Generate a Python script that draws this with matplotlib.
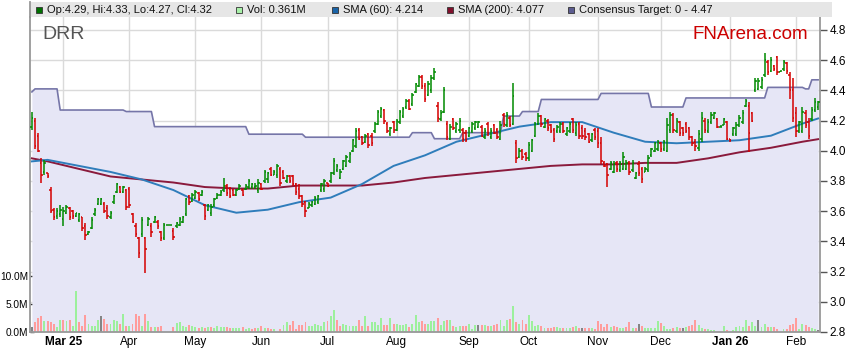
import numpy as np
import matplotlib
matplotlib.use("Agg")
import matplotlib.pyplot as plt
from matplotlib.collections import LineCollection
from matplotlib.patches import Rectangle

plt.rcParams['font.family'] = ['Liberation Sans', 'DejaVu Sans']

# daily OHLC, one value per trading day (Feb 2025 - Feb 2026)
opens = [
    4.16, 4.20, 4.10, 3.92, 3.86, 3.85, 3.74, 3.61, 3.57, 3.58,
    3.55, 3.59, 3.62, 3.60, 3.57, 3.54, 3.56, 3.50, 3.45, 3.49,
    3.58, 3.65, 3.65, 3.65, 3.62, 3.56, 3.66, 3.73, 3.76, 3.73,
    3.74, 3.75, 3.58, 3.50, 3.42, 3.45, 3.42, 3.51, 3.50, 3.53,
    3.53, 3.46, 3.42, 3.51, 3.51, 3.47, 3.50, 3.51, 3.53, 3.58,
    3.70, 3.67, 3.69, 3.72, 3.71, 3.64, 3.61, 3.59, 3.64, 3.69,
    3.71, 3.74, 3.77, 3.75, 3.74, 3.71, 3.75, 3.74, 3.75, 3.76,
    3.76, 3.76, 3.74, 3.78, 3.80, 3.81, 3.88, 3.84, 3.84, 3.88,
    3.86, 3.80, 3.83, 3.83, 3.78, 3.75, 3.70, 3.66, 3.62, 3.64,
    3.65, 3.66, 3.74, 3.75, 3.79, 3.80, 3.85, 3.87, 3.82, 3.88,
    3.90, 3.93, 4.00, 4.03, 4.14, 4.09, 4.06, 4.11, 4.10, 4.13,
    4.18, 4.23, 4.27, 4.18, 4.11, 4.19, 4.14, 4.19, 4.23, 4.29,
    4.33, 4.31, 4.39, 4.43, 4.49, 4.43, 4.37, 4.40, 4.48, 4.30,
    4.21, 4.26, 4.18, 4.08, 4.21, 4.13, 4.14, 4.14, 4.12, 4.10,
    4.13, 4.15, 4.16, 4.16, 4.09, 4.18, 4.09, 4.17, 4.14, 4.08,
    4.24, 4.17, 4.22, 4.18, 4.05, 3.96, 4.00, 3.98, 3.95, 4.00,
    4.10, 4.18, 4.23, 4.16, 4.20, 4.17, 4.14, 4.13, 4.13, 4.18,
    4.11, 4.13, 4.21, 4.12, 4.18, 4.15, 4.13, 4.11, 4.07, 4.14,
    4.13, 4.05, 3.92, 3.91, 3.88, 3.86, 3.92, 3.87, 3.88, 3.88,
    3.92, 3.87, 3.82, 3.91, 3.88, 3.86, 3.87, 3.97, 4.00, 4.01,
    4.05, 4.01, 4.00, 4.14, 4.24, 4.13, 4.19, 4.15, 4.18, 4.15,
    4.09, 4.06, 4.02, 4.08, 4.20, 4.13, 4.19, 4.22, 4.21, 4.16,
    4.17, 4.19, 4.08, 4.11, 4.11, 4.17, 4.19, 4.30, 4.30, 4.25,
    4.40, 4.41, 4.42, 4.50, 4.59, 4.53, 4.56, 4.62, 4.52, 4.54,
    4.58, 4.50, 4.40, 4.25, 4.13, 4.13, 4.25, 4.19, 4.21, 4.27,
    4.29,
]
highs = [
    4.26, 4.22, 4.12, 3.95, 3.94, 3.85, 3.76, 3.62, 3.62, 3.64,
    3.63, 3.64, 3.63, 3.61, 3.59, 3.59, 3.56, 3.52, 3.47, 3.56,
    3.62, 3.69, 3.69, 3.66, 3.64, 3.60, 3.71, 3.79, 3.77, 3.77,
    3.75, 3.76, 3.59, 3.52, 3.43, 3.56, 3.43, 3.56, 3.52, 3.57,
    3.54, 3.47, 3.52, 3.51, 3.51, 3.49, 3.53, 3.56, 3.57, 3.69,
    3.71, 3.72, 3.74, 3.73, 3.74, 3.65, 3.65, 3.65, 3.69, 3.72,
    3.74, 3.82, 3.78, 3.76, 3.75, 3.75, 3.78, 3.75, 3.78, 3.81,
    3.79, 3.79, 3.81, 3.79, 3.87, 3.86, 3.89, 3.87, 3.91, 3.89,
    3.87, 3.84, 3.84, 3.84, 3.79, 3.78, 3.71, 3.67, 3.66, 3.67,
    3.70, 3.71, 3.79, 3.81, 3.79, 3.86, 3.95, 3.91, 3.88, 3.94,
    3.97, 3.99, 4.08, 4.15, 4.15, 4.10, 4.11, 4.12, 4.12, 4.19,
    4.27, 4.29, 4.28, 4.19, 4.16, 4.20, 4.21, 4.27, 4.29, 4.34,
    4.34, 4.38, 4.45, 4.50, 4.50, 4.45, 4.46, 4.50, 4.55, 4.32,
    4.27, 4.42, 4.20, 4.18, 4.22, 4.19, 4.22, 4.15, 4.14, 4.16,
    4.19, 4.20, 4.20, 4.17, 4.15, 4.19, 4.15, 4.18, 4.15, 4.20,
    4.25, 4.26, 4.23, 4.45, 4.07, 4.02, 4.01, 3.99, 4.06, 4.08,
    4.19, 4.25, 4.24, 4.22, 4.21, 4.18, 4.15, 4.17, 4.19, 4.19,
    4.16, 4.19, 4.22, 4.19, 4.19, 4.17, 4.15, 4.12, 4.12, 4.15,
    4.15, 4.09, 3.93, 3.92, 3.93, 3.93, 3.93, 3.93, 3.99, 3.94,
    3.93, 3.94, 3.86, 3.93, 3.89, 3.89, 3.97, 4.02, 4.06, 4.07,
    4.06, 4.07, 4.22, 4.26, 4.25, 4.22, 4.20, 4.16, 4.19, 4.16,
    4.10, 4.08, 4.14, 4.26, 4.22, 4.21, 4.26, 4.26, 4.22, 4.17,
    4.22, 4.20, 4.08, 4.16, 4.19, 4.24, 4.27, 4.34, 4.32, 4.26,
    4.48, 4.48, 4.49, 4.65, 4.60, 4.62, 4.57, 4.63, 4.53, 4.60,
    4.59, 4.52, 4.48, 4.29, 4.20, 4.29, 4.27, 4.22, 4.29, 4.35,
    4.33,
]
lows = [
    4.14, 4.01, 3.99, 3.79, 3.84, 3.82, 3.59, 3.54, 3.55, 3.56,
    3.50, 3.58, 3.54, 3.55, 3.56, 3.53, 3.47, 3.41, 3.44, 3.48,
    3.57, 3.64, 3.64, 3.59, 3.55, 3.55, 3.65, 3.72, 3.72, 3.72,
    3.61, 3.62, 3.52, 3.43, 3.29, 3.43, 3.19, 3.50, 3.43, 3.52,
    3.48, 3.40, 3.41, 3.51, 3.51, 3.41, 3.49, 3.50, 3.52, 3.57,
    3.64, 3.66, 3.68, 3.67, 3.70, 3.54, 3.60, 3.57, 3.63, 3.68,
    3.70, 3.73, 3.70, 3.69, 3.70, 3.70, 3.74, 3.70, 3.74, 3.75,
    3.75, 3.75, 3.72, 3.74, 3.79, 3.79, 3.83, 3.84, 3.82, 3.77,
    3.81, 3.79, 3.79, 3.77, 3.71, 3.68, 3.63, 3.56, 3.62, 3.63,
    3.64, 3.65, 3.73, 3.73, 3.76, 3.79, 3.84, 3.86, 3.81, 3.87,
    3.89, 3.92, 3.99, 4.02, 4.07, 4.04, 4.05, 4.02, 4.03, 4.12,
    4.17, 4.22, 4.18, 4.12, 4.10, 4.12, 4.13, 4.18, 4.22, 4.28,
    4.27, 4.30, 4.38, 4.42, 4.41, 4.32, 4.36, 4.38, 4.47, 4.19,
    4.20, 4.25, 4.07, 4.07, 4.14, 4.12, 4.12, 4.06, 4.06, 4.09,
    4.12, 4.14, 4.15, 4.09, 4.08, 4.10, 4.08, 4.11, 4.08, 4.07,
    4.16, 4.16, 4.16, 4.17, 3.92, 3.95, 3.94, 3.93, 3.93, 3.99,
    4.09, 4.17, 4.16, 4.15, 4.13, 4.12, 4.06, 4.12, 4.12, 4.12,
    4.10, 4.12, 4.12, 4.10, 4.08, 4.08, 4.07, 4.05, 4.06, 4.07,
    4.02, 3.91, 3.89, 3.76, 3.87, 3.85, 3.86, 3.86, 3.87, 3.87,
    3.84, 3.86, 3.81, 3.83, 3.79, 3.86, 3.86, 3.96, 3.99, 4.00,
    3.99, 4.00, 3.99, 4.12, 4.12, 4.12, 4.10, 4.10, 4.12, 4.07,
    4.03, 4.00, 4.00, 4.06, 4.12, 4.12, 4.18, 4.21, 4.15, 4.16,
    4.17, 4.07, 4.06, 4.10, 4.10, 4.16, 4.18, 4.29, 3.99, 4.19,
    4.39, 4.40, 4.41, 4.49, 4.50, 4.52, 4.53, 4.50, 4.52, 4.53,
    4.51, 4.34, 4.19, 4.09, 4.12, 4.12, 4.15, 4.08, 4.20, 4.26,
    4.27,
]
closes = [
    4.22, 4.03, 4.00, 3.84, 3.92, 3.83, 3.60, 3.56, 3.60, 3.61,
    3.60, 3.63, 3.56, 3.57, 3.59, 3.58, 3.49, 3.44, 3.46, 3.54,
    3.61, 3.68, 3.68, 3.60, 3.57, 3.59, 3.70, 3.78, 3.73, 3.76,
    3.63, 3.64, 3.53, 3.45, 3.32, 3.54, 3.35, 3.55, 3.46, 3.56,
    3.50, 3.42, 3.51, 3.51, 3.51, 3.43, 3.52, 3.55, 3.56, 3.68,
    3.66, 3.71, 3.73, 3.68, 3.73, 3.57, 3.64, 3.63, 3.68, 3.71,
    3.73, 3.77, 3.72, 3.70, 3.71, 3.74, 3.77, 3.71, 3.77, 3.80,
    3.78, 3.77, 3.79, 3.75, 3.86, 3.85, 3.84, 3.86, 3.90, 3.79,
    3.82, 3.83, 3.80, 3.78, 3.73, 3.70, 3.65, 3.60, 3.65, 3.66,
    3.69, 3.70, 3.78, 3.80, 3.77, 3.85, 3.93, 3.90, 3.86, 3.93,
    3.96, 3.98, 4.07, 4.13, 4.08, 4.05, 4.10, 4.04, 4.05, 4.18,
    4.26, 4.28, 4.20, 4.13, 4.15, 4.14, 4.20, 4.26, 4.28, 4.33,
    4.28, 4.37, 4.44, 4.49, 4.43, 4.34, 4.44, 4.48, 4.52, 4.22,
    4.25, 4.40, 4.09, 4.16, 4.15, 4.18, 4.20, 4.08, 4.07, 4.15,
    4.18, 4.19, 4.19, 4.10, 4.13, 4.12, 4.13, 4.12, 4.09, 4.17,
    4.18, 4.24, 4.17, 4.36, 3.95, 4.00, 3.96, 3.95, 4.04, 4.07,
    4.18, 4.23, 4.18, 4.21, 4.15, 4.13, 4.08, 4.16, 4.18, 4.13,
    4.15, 4.18, 4.14, 4.17, 4.10, 4.10, 4.09, 4.06, 4.11, 4.09,
    4.05, 3.93, 3.90, 3.84, 3.92, 3.91, 3.88, 3.92, 3.96, 3.92,
    3.86, 3.92, 3.85, 3.85, 3.81, 3.88, 3.95, 4.01, 4.05, 4.06,
    4.01, 4.06, 4.17, 4.24, 4.14, 4.20, 4.12, 4.12, 4.13, 4.09,
    4.05, 4.03, 4.11, 4.22, 4.14, 4.19, 4.24, 4.25, 4.16, 4.16,
    4.21, 4.08, 4.07, 4.15, 4.17, 4.22, 4.25, 4.33, 4.12, 4.20,
    4.46, 4.46, 4.47, 4.60, 4.52, 4.60, 4.54, 4.52, 4.53, 4.59,
    4.53, 4.40, 4.22, 4.13, 4.19, 4.26, 4.17, 4.10, 4.27, 4.32,
    4.32,
]
# volume in millions of shares
volumes = [
    0.9, 1.7, 2.5, 2.9, 1.9, 1.9, 1.7, 1.5, 0.9, 2.2,
    2.2, 1.9, 2.2, 1.1, 7.3, 1.7, 1.1, 3.1, 1.5, 1.1,
    1.0, 2.2, 2.8, 2.4, 1.5, 1.5, 2.1, 1.9, 1.5, 3.3,
    1.1, 1.1, 1.5, 3.3, 2.8, 1.1, 3.3, 2.0, 0.9, 0.9,
    0.9, 1.1, 0.0, 0.0, 0.0, 0.9, 1.6, 1.8, 1.0, 0.9,
    1.3, 1.1, 0.9, 0.7, 0.9, 0.7, 0.9, 0.9, 0.8, 1.0,
    0.9, 0.9, 0.9, 0.7, 0.7, 0.7, 0.7, 0.9, 0.6, 0.7,
    0.5, 0.7, 0.7, 1.0, 0.7, 0.7, 0.5, 0.5, 0.0, 0.5,
    1.3, 1.7, 1.3, 1.9, 0.5, 1.3, 1.3, 1.7, 1.0, 1.1,
    1.5, 1.3, 1.1, 1.7, 1.9, 2.8, 4.0, 2.1, 1.1, 1.5,
    1.3, 1.0, 1.1, 1.0, 2.1, 1.0, 2.8, 1.0, 1.7, 1.7,
    1.3, 2.5, 1.3, 1.3, 2.5, 1.5, 1.5, 1.3, 1.3, 1.5,
    0.9, 1.5, 3.1, 1.7, 1.9, 1.5, 1.5, 1.9, 1.9, 2.5,
    1.3, 1.9, 2.2, 2.1, 1.1, 0.9, 1.0, 1.0, 1.1, 1.5,
    0.5, 1.3, 1.3, 1.3, 1.3, 1.0, 1.0, 1.3, 1.5, 2.2,
    1.1, 2.2, 2.3, 4.7, 1.7, 1.5, 2.2, 1.5, 3.1, 2.0,
    1.0, 1.3, 1.0, 0.7, 0.7, 0.7, 0.9, 0.9, 0.7, 0.7,
    0.7, 0.7, 0.9, 1.1, 0.7, 0.7, 0.7, 0.7, 0.7, 0.6,
    2.0, 1.5, 0.9, 1.5, 0.9, 1.0, 0.9, 0.7, 0.7, 0.9,
    1.7, 0.7, 0.7, 1.5, 1.1, 0.7, 0.8, 0.8, 0.8, 1.9,
    1.6, 1.1, 0.5, 0.5, 0.7, 0.9, 0.7, 0.7, 0.9, 1.1,
    1.3, 2.1, 1.3, 0.7, 0.5, 0.5, 0.4, 0.4, 0.0, 0.0,
    1.1, 0.4, 0.0, 0.4, 0.9, 1.1, 0.9, 2.1, 1.1, 1.7,
    1.1, 2.2, 0.9, 1.5, 0.9, 0.9, 0.9, 0.5, 0.0, 0.5,
    0.5, 1.3, 1.5, 2.5, 0.6, 1.5, 1.3, 0.9, 0.7, 0.6,
    0.361,
]

month_pos = [10, 31, 52, 73, 94, 116, 139, 158, 180, 200, 222, 243]
month_labels = ['Mar 25', 'Apr', 'May', 'Jun', 'Jul', 'Aug', 'Sep', 'Oct',
                'Nov', 'Dec', 'Jan 26', 'Feb']

# moving averages, read at every 10th bar
sma_pos = [0, 5, 15, 25, 35, 45, 55, 65, 75, 85, 95, 105, 115, 125, 135,
           145, 155, 165, 175, 185, 195, 205, 215, 225, 235, 245, 250]
sma60 = [3.93, 3.94, 3.90, 3.86, 3.81, 3.74, 3.64, 3.59, 3.61, 3.66, 3.69,
         3.78, 3.90, 3.97, 4.06, 4.11, 4.16, 4.19, 4.19, 4.12, 4.06, 4.05,
         4.06, 4.07, 4.10, 4.18, 4.214]
sma200 = [3.95, 3.93, 3.88, 3.83, 3.81, 3.79, 3.76, 3.75, 3.75, 3.77, 3.77,
          3.77, 3.79, 3.82, 3.84, 3.86, 3.88, 3.90, 3.91, 3.91, 3.92, 3.92,
          3.95, 3.99, 4.02, 4.06, 4.077]

# consensus target: bar where a level starts, and the level
target_start = [0, 1, 9, 30, 39, 69, 87, 121, 128, 137, 150, 156, 162, 181,
                197, 208, 234, 246, 248]
target_value = [4.39, 4.41, 4.27, 4.26, 4.16, 4.11, 4.09, 4.12, 4.08, 4.12,
                4.23, 4.26, 4.34, 4.38, 4.29, 4.35, 4.42, 4.41, 4.47]

price_ticks = [2.8, 3.0, 3.2, 3.4, 3.6, 3.8, 4.0, 4.2, 4.4, 4.6, 4.8]
vol_ticks = [0, 5, 10]

W, H = 859, 363
n = len(closes)
x = np.arange(n)
o, hi, lo, c = map(np.array, (opens, highs, lows, closes))
vol = np.array(volumes)

P0 = 2.8
P1 = 2.8 + 315 / 151
VK = 0.0371  # price units per million shares on the shared panel

fig = plt.figure(figsize=(W / 100, H / 100), dpi=100)
ax = fig.add_axes([30 / W, 31 / H, 790 / W, 315 / H])
ax.set_xlim(-0.6, n - 0.4)
ax.set_ylim(P0, P1)

ax.set_axisbelow(True)
ax.grid(True, color='#dadada', lw=1)

# consensus target band
lens = np.diff(target_start + [n])
tgt = np.repeat(target_value, lens)
ax.fill_between(x, P0, tgt, color='#e6e6f6', lw=0, zorder=1)
ax.plot(x, tgt, color='#7575a8', lw=1.2, zorder=1.5)

# volume bars
prev = np.concatenate([[c[0]], c[:-1]])
vcol = np.where(c > prev, '#9cf09c', np.where(c < prev, '#ff9c9c', '#858585'))
ax.bar(x, vol * VK, bottom=P0, width=0.62, color=vcol, zorder=2)

ax.plot(sma_pos, sma200, color='#8a1a3c', lw=1.4, zorder=3)
ax.plot(sma_pos, sma60, color='#2f7dbb', lw=1.4, zorder=3)

# OHLC bars
cols = np.where(c >= o, '#008a00', '#d40000')
segs = []
scol = []
for i in range(n):
    segs += [[(i, lo[i]), (i, hi[i])],
             [(i - 0.45, o[i]), (i, o[i])],
             [(i, c[i]), (i + 0.45, c[i])]]
    scol += [cols[i]] * 3
ax.add_collection(LineCollection(segs, colors=scol, lw=1.1, zorder=4))

# axes styling
ax.spines['top'].set_visible(False)
for s in ['left', 'right', 'bottom']:
    ax.spines[s].set_color('#999999')
    ax.spines[s].set_linewidth(1.3)

ax.yaxis.tick_right()
ax.set_yticks(price_ticks)
ax.set_yticklabels([f'{t:.1f}' for t in price_ticks])
ax.tick_params(axis='y', direction='out', length=5, width=1, color='#555555',
               labelsize=8.5, pad=2)
ax.set_xticks(month_pos)
ax.set_xticklabels(month_labels)
ax.tick_params(axis='x', length=0, labelsize=8.5, pad=3)
for lab in ax.get_xticklabels():
    if ' ' in lab.get_text():
        lab.set_fontweight('bold')

sec = ax.secondary_yaxis('left', functions=(lambda p: (p - P0) / VK,
                                             lambda v: v * VK + P0))
sec.set_yticks(vol_ticks)
sec.set_yticklabels([f'{v:.1f}M' for v in vol_ticks])
sec.tick_params(direction='in', length=3, width=1, color='#333333',
                labelsize=7.3, pad=1.5)
sec.spines['left'].set_visible(False)

# header band with legend
hax = fig.add_axes([30 / W, (H - 17) / H, 802 / W, 15 / H])
hax.set_facecolor('#e6e6e6')
hax.set_xticks([])
hax.set_yticks([])
for s in ['top', 'right', 'bottom']:
    hax.spines[s].set_visible(False)
hax.spines['left'].set_color('#999999')
hax.spines['left'].set_linewidth(1.3)

legend = [
    (36, '#007000', f'Op:{opens[-1]:.2f}, Hi:{highs[-1]:.2f}, '
                    f'Lo:{lows[-1]:.2f}, Cl:{closes[-1]:.2f}'),
    (236, '#a8f0a8', f'Vol: {volumes[-1]:.3f}M'),
    (332, '#1a64a8', f'SMA (60): {sma60[-1]:.3f}'),
    (447, '#80102c', f'SMA (200): {sma200[-1]:.3f}'),
    (568, '#5c5c90', f'Consensus Target: 0 - {target_value[-1]:.2f}'),
]
for px, col, txt in legend:
    fig.patches.append(Rectangle((px / W, (H - 13) / H), 6 / W, 6 / H,
                                 transform=fig.transFigure, facecolor=col,
                                 edgecolor='#333333', lw=0.6))
    fig.text((px + 11) / W, (H - 10) / H, txt, fontsize=8, va='center',
             color='#111111')

fig.text(42 / W, (H - 39) / H, 'DRR', fontsize=14, color='#555555',
         va='baseline')
fig.text(693 / W, (H - 39) / H, 'FNArena.com', fontsize=13.5,
         color='#cc0000', va='baseline')

fig.savefig('out.png', dpi=100)
